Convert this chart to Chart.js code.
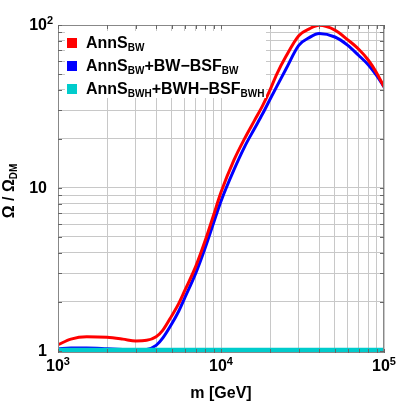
<!DOCTYPE html>
<html>
<head>
<meta charset="utf-8">
<script src="https://cdn.jsdelivr.net/npm/chart.js@4.4.0/dist/chart.umd.min.js"></script>
<style>
html, body { margin: 0; padding: 0; background: #fff; }
#wrap { width: 397px; height: 407px; }
</style>
</head>
<body>
<div id="wrap"><canvas id="chart"></canvas></div>
<script>
// masses in GeV and relic abundance ratios
const massGeV = [1000, 1200, 1500, 2000, 2500, 3000, 3500, 4000, 4400, 5000, 5500, 6000, 7000, 8000, 9000, 10000,
  12000, 14000, 16000, 18000, 20000, 22000, 25000, 30000, 35000, 40000, 50000, 60000, 70000, 80000, 90000, 100000];
const annSBW = [1.09, 1.18, 1.22, 1.21, 1.18, 1.15, 1.16, 1.22, 1.34, 1.65, 1.95, 2.35, 3.3, 4.75, 6.8, 9.4,
  14.8, 20.2, 25.8, 32, 40, 50, 64, 86, 95, 99.5, 93, 81, 71, 61, 51, 41.7];
const annSBWBSF = [1.03, 1.04, 1.04, 1.03, 1.02, 1.01, 1.02, 1.08, 1.2, 1.47, 1.75, 2.12, 3.0, 4.3, 6.1, 8.3,
  12.9, 18, 23, 28.5, 35, 42, 53.5, 75, 84, 88.6, 84.4, 75, 65, 57, 49, 41.7];
const annSBWHMass = [1000, 100000];
const annSBWH = [1, 1];

const xMajor = [1000, 10000, 100000];
const xMajorLabels = [['10', '3'], ['10', '4'], ['10', '5']];
const yMajor = [1, 10, 100];
const yMajorLabels = [['1', ''], ['10', ''], ['10', '2']];

const legendColors = ['#ff0000', '#0000ff', '#00cccc'];
const legendLabels = [
  [['AnnS', 0], ['BW', 1]],
  [['AnnS', 0], ['BW', 1], ['+BW\u2212BSF', 0], ['BW', 1]],
  [['AnnS', 0], ['BWH', 1], ['+BWH\u2212BSF', 0], ['BWH', 1]]
];

const FONT = '"Liberation Sans", Arial, Helvetica, sans-serif';

function pts(xs, ys) {
  return xs.map((x, i) => ({ x: x, y: ys[i] }));
}

function logGrid(lo, hi) {
  let out = [];
  for (let d = lo; d < hi; d *= 10) {
    for (let k = 1; k < 10; k++) out.push(k * d);
  }
  out.push(hi);
  return out;
}

function richText(ctx, parts, x, y, size, subSize, subDy) {
  for (const [t, sub] of parts) {
    ctx.font = 'bold ' + (sub ? subSize : size) + 'px ' + FONT;
    ctx.fillText(t, x, y + (sub ? subDy : 0));
    x += ctx.measureText(t).width;
  }
  return x;
}

const decor = {
  id: 'decor',
  afterDatasetsDraw(chart) {
    const ctx = chart.ctx;
    const a = chart.chartArea;
    const xs = chart.scales.x, ys = chart.scales.y;
    ctx.save();

    // frame
    ctx.strokeStyle = '#888';
    ctx.lineWidth = 1;
    ctx.strokeRect(a.left + 0.5, a.top + 0.5, a.right - a.left - 1, a.bottom - a.top - 1);

    // inward ticks on all four sides
    ctx.strokeStyle = '#666';
    ctx.beginPath();
    xs.ticks.forEach(t => {
      const px = Math.round(xs.getPixelForValue(t.value)) + 0.5;
      ctx.moveTo(px, a.bottom); ctx.lineTo(px, a.bottom - 4);
      ctx.moveTo(px, a.top); ctx.lineTo(px, a.top + 4);
    });
    ys.ticks.forEach(t => {
      const py = Math.round(ys.getPixelForValue(t.value)) + 0.5;
      ctx.moveTo(a.left, py); ctx.lineTo(a.left + 4, py);
      ctx.moveTo(a.right, py); ctx.lineTo(a.right - 4, py);
    });
    ctx.stroke();

    // legend box
    ctx.fillStyle = '#fff';
    ctx.fillRect(65, 31, 201, 67);
    legendLabels.forEach((parts, i) => {
      const base = 48 + i * 23;
      ctx.fillStyle = legendColors[i];
      ctx.fillRect(67, base - 10, 10, 10);
      ctx.fillStyle = '#000';
      ctx.textBaseline = 'alphabetic';
      ctx.textAlign = 'left';
      richText(ctx, parts, 86, base, 16, 10, 3);
    });

    // tick labels
    ctx.fillStyle = '#000';
    ctx.textBaseline = 'middle';
    xMajor.forEach((v, i) => {
      const [b, s] = xMajorLabels[i];
      const px = xs.getPixelForValue(v);
      ctx.font = 'bold 16px ' + FONT;
      const wb = ctx.measureText(b).width;
      ctx.font = 'bold 11px ' + FONT;
      const wsup = ctx.measureText(s).width;
      const x0 = px - (wb + wsup) / 2;
      ctx.textAlign = 'left';
      ctx.font = 'bold 16px ' + FONT;
      ctx.fillText(b, x0, 367);
      ctx.font = 'bold 11px ' + FONT;
      ctx.fillText(s, x0 + wb, 362);
    });
    yMajor.forEach((v, i) => {
      const [b, s] = yMajorLabels[i];
      const py = ys.getPixelForValue(v) + 1;
      ctx.textAlign = 'right';
      ctx.font = 'bold 16px ' + FONT;
      ctx.fillText(b, 47, py);
      if (s) {
        ctx.textAlign = 'left';
        ctx.font = 'bold 11px ' + FONT;
        ctx.fillText(s, 47, py - 5);
      }
    });

    // y axis title with subscript
    ctx.translate(10, (a.top + a.bottom) / 2 + 2);
    ctx.rotate(-Math.PI / 2);
    ctx.textAlign = 'left';
    ctx.textBaseline = 'middle';
    const yParts = [['\u03A9 / \u03A9', 0], ['DM', 1]];
    ctx.font = 'bold 16px ' + FONT;
    let w = ctx.measureText(yParts[0][0]).width;
    ctx.font = 'bold 10px ' + FONT;
    w += ctx.measureText(yParts[1][0]).width;
    richText(ctx, yParts, -w / 2, 0, 16, 10, 4);
    ctx.restore();
  }
};

const gridColor = '#c8c8c8';

new Chart(document.getElementById('chart'), {
  type: 'line',
  data: {
    datasets: [
      {
        label: 'AnnS_BWH+BWH-BSF_BWH',
        data: pts(annSBWHMass, annSBWH),
        borderColor: legendColors[2],
        borderWidth: 6,
        pointRadius: 0,
        order: 0
      },
      {
        label: 'AnnS_BW',
        data: pts(massGeV, annSBW),
        borderColor: legendColors[0],
        borderWidth: 3,
        pointRadius: 0,
        cubicInterpolationMode: 'monotone',
        order: 1
      },
      {
        label: 'AnnS_BW+BW-BSF_BW',
        data: pts(massGeV, annSBWBSF),
        borderColor: legendColors[1],
        borderWidth: 3,
        pointRadius: 0,
        cubicInterpolationMode: 'monotone',
        order: 2
      }
    ]
  },
  options: {
    responsive: true,
    maintainAspectRatio: false,
    animation: false,
    layout: { padding: { top: 25, right: 13, left: 0, bottom: 0 } },
    plugins: { legend: { display: false }, tooltip: { enabled: false } },
    scales: {
      x: {
        type: 'logarithmic',
        min: 1000,
        max: 100000,
        afterBuildTicks(scale) { scale.ticks = logGrid(1000, 100000).map(v => ({ value: v })); },
        afterFit(scale) { scale.height = 54; },
        ticks: { display: false },
        grid: { color: gridColor, drawTicks: false },
        border: { display: false },
        title: {
          display: true,
          text: 'm [GeV]',
          color: '#000',
          font: { family: FONT, size: 16, weight: 'bold' },
          padding: { top: 0, bottom: 4 }
        }
      },
      y: {
        type: 'logarithmic',
        min: 0.97,
        max: 100,
        afterBuildTicks(scale) { scale.ticks = logGrid(1, 100).map(v => ({ value: v })); },
        afterFit(scale) { scale.width = 58; },
        ticks: { display: false },
        grid: { color: gridColor, drawTicks: false },
        border: { display: false }
      }
    }
  },
  plugins: [decor]
});
</script>
</body>
</html>
